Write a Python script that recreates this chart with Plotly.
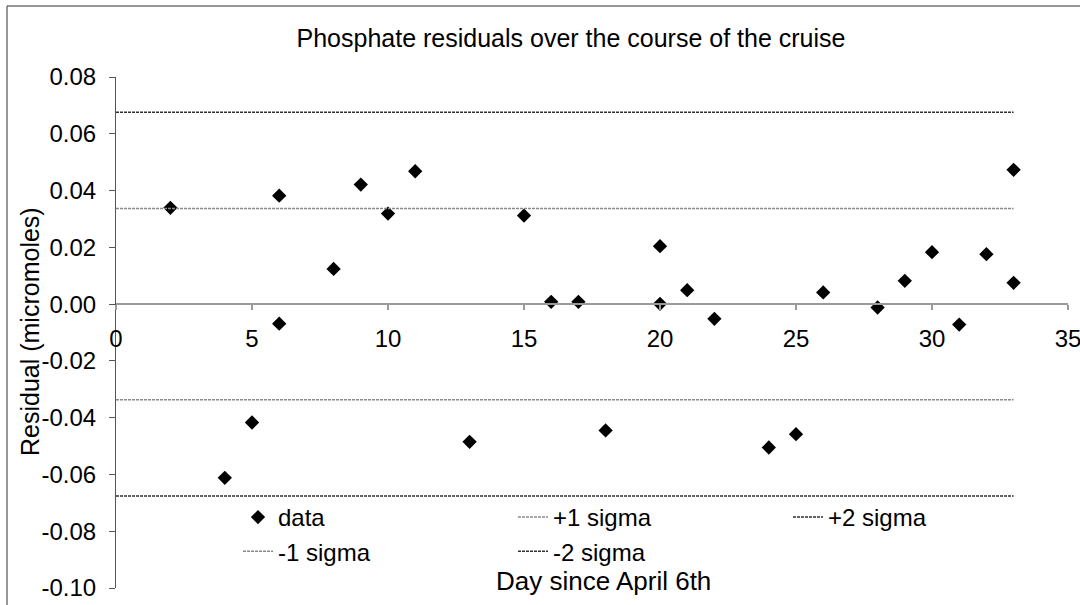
import plotly.graph_objects as go

# ---- data ----
days = [2, 4, 5, 6, 6, 8, 9, 10, 11, 13, 15, 16, 17, 18, 20, 20, 21, 22,
        24, 25, 26, 28, 29, 30, 31, 32, 33, 33]
residuals = [0.0339, -0.0612, -0.0417, 0.0382, -0.0069, 0.0124, 0.0421, 0.0319,
             0.0468, -0.0485, 0.0312, 0.0008, 0.0008, -0.0445, 0.0204, 0.0001,
             0.0049, -0.0052, -0.0505, -0.0458, 0.0041, -0.0012, 0.0082, 0.0183,
             -0.0072, 0.0176, 0.0473, 0.0075]

sigma_x = [0, 33]
plus1_sigma = [0.0337, 0.0337]
plus2_sigma = [0.0676, 0.0676]
minus1_sigma = [-0.0337, -0.0337]
minus2_sigma = [-0.0676, -0.0676]

x_tick_vals = [0, 5, 10, 15, 20, 25, 30, 35]
x_tick_labels = ["0", "5", "10", "15", "20", "25", "30", "35"]
y_tick_vals = [0.08, 0.06, 0.04, 0.02, 0.0, -0.02, -0.04, -0.06, -0.08, -0.10]
y_tick_labels = ["0.08", "0.06", "0.04", "0.02", "0.00", "-0.02", "-0.04",
                 "-0.06", "-0.08", "-0.10"]

title_text = "Phosphate residuals over the course of the cruise"
x_title = "Day since April 6th"
y_title = "Residual (micromoles)"

FONT = "Liberation Sans, Arial, sans-serif"

fig = go.Figure()
fig.add_trace(go.Scatter(x=days, y=residuals, mode="markers", name="data",
                         marker=dict(symbol="diamond", size=11, color="black")))
fig.add_trace(go.Scatter(x=sigma_x, y=plus1_sigma, mode="lines", name="+1 sigma",
                         line=dict(color="#8a8a8a", width=1.5, dash="3px,1px")))
fig.add_trace(go.Scatter(x=sigma_x, y=plus2_sigma, mode="lines", name="+2 sigma",
                         line=dict(color="#303030", width=1.5, dash="3px,1px")))
fig.add_trace(go.Scatter(x=sigma_x, y=minus1_sigma, mode="lines", name="-1 sigma",
                         line=dict(color="#8a8a8a", width=1.5, dash="3px,1px")))
fig.add_trace(go.Scatter(x=sigma_x, y=minus2_sigma, mode="lines", name="-2 sigma",
                         line=dict(color="#303030", width=1.5, dash="3px,1px")))

zero_pos = 0.10 / 0.18
PW = 952.0   # plot width in px
PH = 511.0   # plot height in px

fig.update_layout(
    width=1080, height=605,
    margin=dict(l=116, r=12, t=77, b=17, autoexpand=False),
    paper_bgcolor="white", plot_bgcolor="white",
    font=dict(family=FONT, size=24, color="black"),
    title=dict(text=title_text, x=571 / 1080, xanchor="center",
               y=1 - 38 / 605, yref="container", yanchor="middle",
               font=dict(family=FONT, size=25, color="black")),
    xaxis=dict(range=[0, 35.0001], tickvals=x_tick_vals, ticktext=x_tick_labels,
               anchor="free", position=zero_pos, showline=True,
               linecolor="#9a9a9a", linewidth=1.5, ticks="outside", ticklen=5,
               tickcolor="#9a9a9a", tickwidth=1.5, showgrid=False, zeroline=False,
               ticklabelstandoff=8, automargin=False, ticklabeloverflow="allow",
               tickfont=dict(family=FONT, size=24, color="black")),
    yaxis=dict(range=[-0.10, 0.08], tickvals=y_tick_vals, ticktext=y_tick_labels,
               showline=True, linecolor="#555555", linewidth=1, ticks="outside",
               ticklen=6, tickcolor="#555555", showgrid=False, zeroline=False,
               automargin=False, ticklabelstandoff=8, ticklabeloverflow="allow",
               tickfont=dict(family=FONT, size=24, color="black")),
    showlegend=True,
    legend=dict(orientation="h", x=(238 - 116) / PW, xanchor="left",
                y=(588 - 495) / PH, yanchor="top", bgcolor="rgba(0,0,0,0)",
                entrywidth=230, entrywidthmode="pixels", tracegroupgap=0,
                font=dict(family=FONT, size=24, color="black")),
)

fig.add_annotation(text=x_title, xref="paper", yref="paper",
                   x=(603 - 116) / PW, y=(588 - 581) / PH,
                   showarrow=False, xanchor="center", yanchor="middle",
                   font=dict(family=FONT, size=26, color="black"))
fig.add_annotation(text=y_title, xref="paper", yref="paper",
                   x=(30 - 116) / PW, y=(588 - 332) / PH, textangle=-90,
                   showarrow=False, xanchor="center", yanchor="middle",
                   font=dict(family=FONT, size=25, color="black"))

# chart-area border (left and top edges visible)
fig.add_shape(type="rect", xref="paper", yref="paper",
              x0=(7 - 116) / PW, x1=1.05, y0=(588 - 6) / PH, y1=-0.1,
              line=dict(color="#333333", width=1), fillcolor="rgba(0,0,0,0)",
              layer="below")

fig.write_html("out.html", config={"displayModeBar": False},
               post_script="document.body.style.margin='0';document.body.style.padding='0';")
